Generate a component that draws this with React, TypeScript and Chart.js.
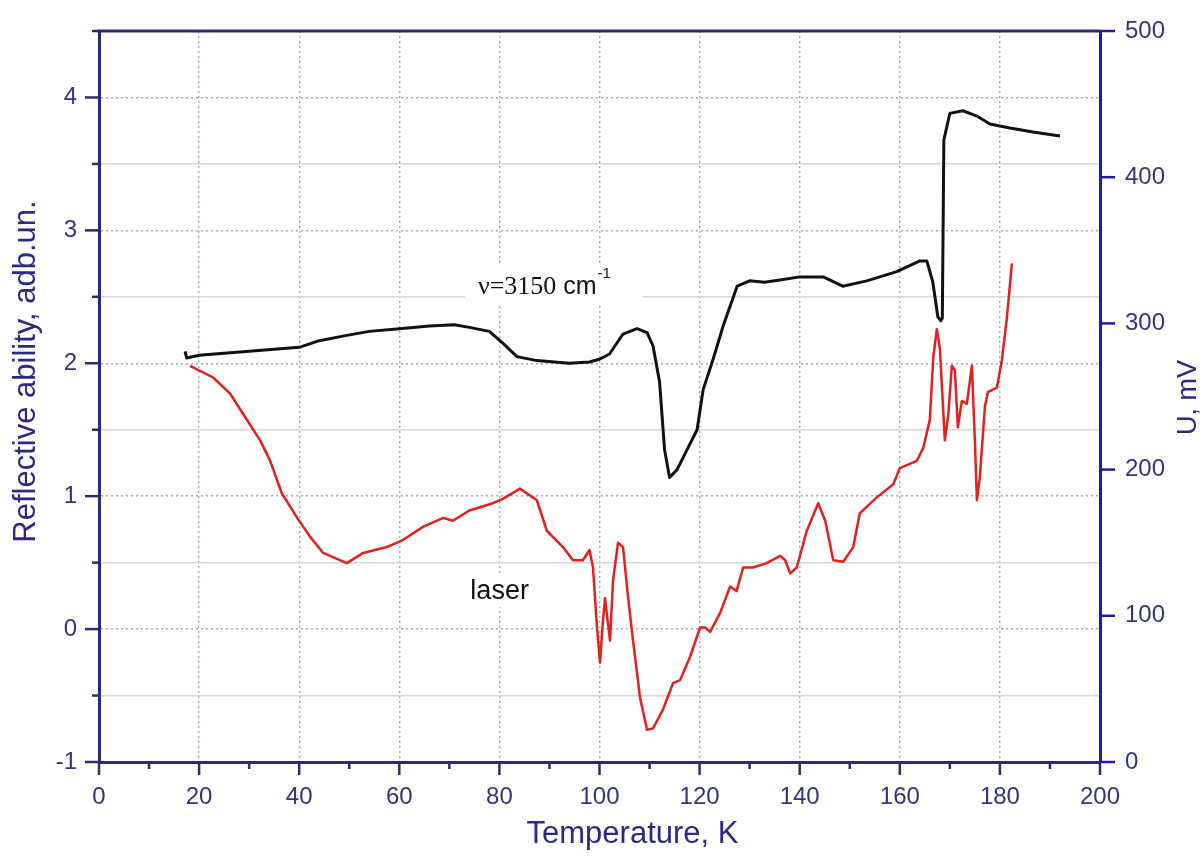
import React, { useEffect, useRef } from "react";
import { Chart, registerables } from "chart.js";

Chart.register(...registerables);

// Black curve: reflective ability (left axis), temperature in K
const tempBlack = [17.2, 17.5, 20, 30, 40, 44, 49.5, 54, 60, 66, 71, 74, 78, 81, 83.5, 87.5, 94, 98, 100, 102, 104.7, 107.5, 109.5, 110.7, 112, 113, 114, 115.5, 117.5, 119.5, 120.7, 122.7, 124.7, 127.5, 130, 133, 136.7, 140, 144.7, 148.6, 153.4, 159.4, 164, 165.4, 166.6, 167.6, 168.2, 168.5, 168.8, 170, 172.6, 175.4, 178, 182, 186.6, 192];
const reflectance = [2.09, 2.04, 2.06, 2.09, 2.12, 2.17, 2.21, 2.24, 2.26, 2.28, 2.29, 2.27, 2.24, 2.14, 2.05, 2.02, 2.0, 2.01, 2.03, 2.07, 2.22, 2.26, 2.23, 2.13, 1.86, 1.35, 1.14, 1.2, 1.35, 1.5, 1.8, 2.03, 2.28, 2.58, 2.62, 2.61, 2.63, 2.65, 2.65, 2.58, 2.62, 2.69, 2.77, 2.77, 2.61, 2.35, 2.32, 2.34, 3.68, 3.88, 3.9, 3.86, 3.8, 3.77, 3.74, 3.71];

// Red curve: laser signal U (right axis, mV)
const tempRed = [18.2, 22.8, 26.2, 28.8, 32.2, 34.2, 36.5, 39.6, 42.2, 44.8, 49.5, 52.8, 57.5, 60.8, 64.8, 68.8, 70.7, 74, 78.7, 80.7, 84.1, 87.5, 89.5, 92.7, 94.7, 96.7, 98, 98.7, 99.5, 100.1, 100.7, 101.1, 102.1, 102.7, 103.7, 104.7, 105.7, 106.7, 108.1, 109.5, 110.7, 112.7, 114.7, 116.1, 118.1, 120.1, 121.1, 122.1, 124.1, 126.1, 127.4, 128.7, 130.7, 133.4, 136.1, 137.1, 138.1, 139.4, 141.4, 143.7, 145.1, 146.7, 148.7, 150.7, 152, 155.4, 158.7, 160, 163.4, 164.7, 166, 166.7, 167.4, 168, 169, 169.7, 170.4, 171, 171.6, 172.4, 173.4, 174.4, 175, 175.4, 176, 177, 177.6, 179.4, 180.4, 181.4, 182.4];
const voltage = [271, 263, 252, 238, 220, 206, 184, 167, 154, 143, 136, 143, 147, 152, 161, 167, 165, 172, 177, 180, 187, 179, 158, 147, 138, 138, 145, 133, 92, 68, 97, 112, 83, 124, 150, 147, 113, 83, 44, 22, 23, 36, 54, 56, 72, 92, 92, 89, 102, 120, 117, 133, 133, 136, 141, 138, 129, 133, 158, 177, 165, 138, 137, 147, 170, 181, 190, 201, 206, 215, 234, 277, 296, 283, 220, 238, 271, 268, 229, 247, 245, 271, 220, 179, 195, 243, 253, 256, 275, 304, 341];

const xRange = [0, 200];
const leftRange = [-1, 4.5];
const rightRange = [0, 500];

const xTitle = "Temperature, K";
const leftTitle = "Reflective ability, adb.un.";
const rightTitle = "U, mV";
const waveLabel = { main: "\u03bd=3150", unit: " cm", sup: "-1", t: 75.7, v: 2.52 };
const laserLabel = { text: "laser", t: 74.2, v: 0.225 };

const NAVY = "#2b2b72";
const BLUE = "#1c1ca6";
const LABEL = "#34347c";
const SANS = "'Liberation Sans', Arial, sans-serif";
const SERIF = "'Liberation Serif', 'Times New Roman', serif";

const decor = {
  id: "decor",
  beforeDatasetsDraw(chart: any) {
    const { ctx, scales } = chart;
    const x = scales.x;
    const y = scales.y;
    ctx.save();
    // wave label
    let px = x.getPixelForValue(waveLabel.t);
    let py = y.getPixelForValue(waveLabel.v);
    ctx.fillStyle = "#ffffff";
    ctx.fillRect(px - 13, py - 30, 178, 40);
    ctx.fillStyle = "#111111";
    ctx.textBaseline = "alphabetic";
    ctx.textAlign = "left";
    ctx.font = `26px ${SERIF}`;
    ctx.fillText(waveLabel.main, px, py);
    let w = ctx.measureText(waveLabel.main).width;
    ctx.font = `25px ${SANS}`;
    ctx.fillText(waveLabel.unit, px + w, py);
    w += ctx.measureText(waveLabel.unit).width;
    ctx.font = `15px ${SANS}`;
    ctx.fillText(waveLabel.sup, px + w + 1, py - 16);
    // laser label
    px = x.getPixelForValue(laserLabel.t);
    py = y.getPixelForValue(laserLabel.v);
    ctx.font = `27px ${SANS}`;
    const lw = ctx.measureText(laserLabel.text).width;
    ctx.fillStyle = "#ffffff";
    ctx.fillRect(px - 3, py - 24, lw + 6, 32);
    ctx.fillStyle = "#111111";
    ctx.fillText(laserLabel.text, px, py);
    ctx.restore();
  },
  afterDraw(chart: any) {
    const { ctx, scales, chartArea } = chart;
    const { left, right, top, bottom } = chartArea;
    ctx.save();
    ctx.lineCap = "butt";
    // top border
    ctx.strokeStyle = NAVY;
    ctx.lineWidth = 3;
    ctx.beginPath();
    ctx.moveTo(left - 1.5, top);
    ctx.lineTo(right, top);
    ctx.stroke();
    // left ticks
    ctx.lineWidth = 2.5;
    scales.y.ticks.forEach((t: any) => {
      const py = scales.y.getPixelForValue(t.value);
      const len = Number.isInteger(t.value) ? 14 : 7;
      ctx.beginPath();
      ctx.moveTo(left - len, py);
      ctx.lineTo(left, py);
      ctx.stroke();
    });
    // bottom ticks
    scales.x.ticks.forEach((t: any) => {
      const px = scales.x.getPixelForValue(t.value);
      const len = t.value % 20 === 0 ? 13 : 7;
      ctx.beginPath();
      ctx.moveTo(px, bottom);
      ctx.lineTo(px, bottom + len);
      ctx.stroke();
    });
    // right ticks
    ctx.strokeStyle = BLUE;
    scales.y1.ticks.forEach((t: any) => {
      const py = scales.y1.getPixelForValue(t.value);
      ctx.beginPath();
      ctx.moveTo(right, py);
      ctx.lineTo(right + 15, py);
      ctx.stroke();
    });
    // axis titles
    ctx.fillStyle = "#2a2a86";
    ctx.font = `31px ${SANS}`;
    ctx.textAlign = "center";
    ctx.textBaseline = "alphabetic";
    ctx.fillText(xTitle, (left + right) / 2 + 33, 843);
    ctx.textBaseline = "middle";
    ctx.save();
    ctx.translate(left - 73, (top + bottom) / 2 - 25);
    ctx.rotate(-Math.PI / 2);
    ctx.fillText(leftTitle, 0, 0);
    ctx.restore();
    ctx.save();
    ctx.font = `27px ${SANS}`;
    ctx.translate(right + 89, (top + bottom) / 2 + 1);
    ctx.rotate(-Math.PI / 2);
    ctx.fillText(rightTitle, 0, 0);
    ctx.restore();
    ctx.restore();
  },
};

export default function App() {
  const ref = useRef<HTMLCanvasElement | null>(null);
  useEffect(() => {
    if (!ref.current) return;
    const chart = new Chart(ref.current, {
      type: "line",
      data: {
        datasets: [
          {
            label: "reflective",
            data: tempBlack.map((t, i) => ({ x: t, y: reflectance[i] })),
            borderColor: "#111111",
            borderWidth: 3,
            pointRadius: 0,
            yAxisID: "y",
            borderJoinStyle: "round",
          },
          {
            label: "laser",
            data: tempRed.map((t, i) => ({ x: t, y: voltage[i] })),
            borderColor: "#e3201e",
            borderWidth: 2.5,
            pointRadius: 0,
            yAxisID: "y1",
            borderJoinStyle: "round",
          },
        ],
      },
      options: {
        animation: false,
        responsive: true,
        maintainAspectRatio: false,
        layout: { padding: { top: 31, left: 0, right: 0, bottom: 0 } },
        plugins: { legend: { display: false }, tooltip: { enabled: false } },
        scales: {
          x: {
            type: "linear",
            min: xRange[0],
            max: xRange[1],
            afterFit: (s: any) => { s.height = 94; s.paddingLeft = 0; s.paddingRight = 0; },
            ticks: {
              stepSize: 10,
              autoSkip: false,
              maxRotation: 0,
              padding: 21,
              color: LABEL,
              font: { family: SANS, size: 24 },
              callback: (v: any) => (v % 20 === 0 ? String(v) : ""),
            },
            grid: {
              drawTicks: false,
              lineWidth: 1.4,
              color: (c: any) => {
                const v = c.tick ? c.tick.value : 0;
                return v % 20 === 0 && v > 0 && v < 200 ? "#a3a7cc" : "transparent";
              },
            },
            border: { color: NAVY, width: 3, dash: (c: any) => (c.tick ? [2, 3] : []) },
          },
          y: {
            type: "linear",
            position: "left",
            min: leftRange[0],
            max: leftRange[1],
            afterFit: (s: any) => { s.width = 99; s.paddingTop = 0; s.paddingBottom = 0; },
            ticks: {
              stepSize: 0.5,
              autoSkip: false,
              padding: 22,
              color: LABEL,
              font: { family: SANS, size: 24 },
              callback: (v: any) => (Number.isInteger(v) ? String(v) : ""),
            },
            grid: {
              drawTicks: false,
              lineWidth: 1.4,
              color: (c: any) => {
                const v = c.tick ? c.tick.value : -1;
                if (v <= -1 || v >= 4.5) return "transparent";
                return Number.isInteger(v) ? "#a3a7cc" : "#d6d6dc";
              },
            },
            border: {
              color: NAVY,
              width: 3,
              dash: (c: any) => (c.tick && Number.isInteger(c.tick.value) ? [2, 3] : []),
            },
          },
          y1: {
            type: "linear",
            position: "right",
            min: rightRange[0],
            max: rightRange[1],
            afterFit: (s: any) => { s.width = 103; s.paddingTop = 0; s.paddingBottom = 0; },
            ticks: {
              stepSize: 100,
              padding: 25,
              color: LABEL,
              font: { family: SANS, size: 24 },
            },
            grid: { drawTicks: false, drawOnChartArea: false },
            border: { color: BLUE, width: 3 },
          },
        },
      } as any,
      plugins: [decor],
    });
    return () => chart.destroy();
  }, []);
  return (
    <div style={{ position: "absolute", left: 0, top: 0, width: 1203, height: 856, background: "#ffffff" }}>
      <canvas ref={ref} />
    </div>
  );
}
